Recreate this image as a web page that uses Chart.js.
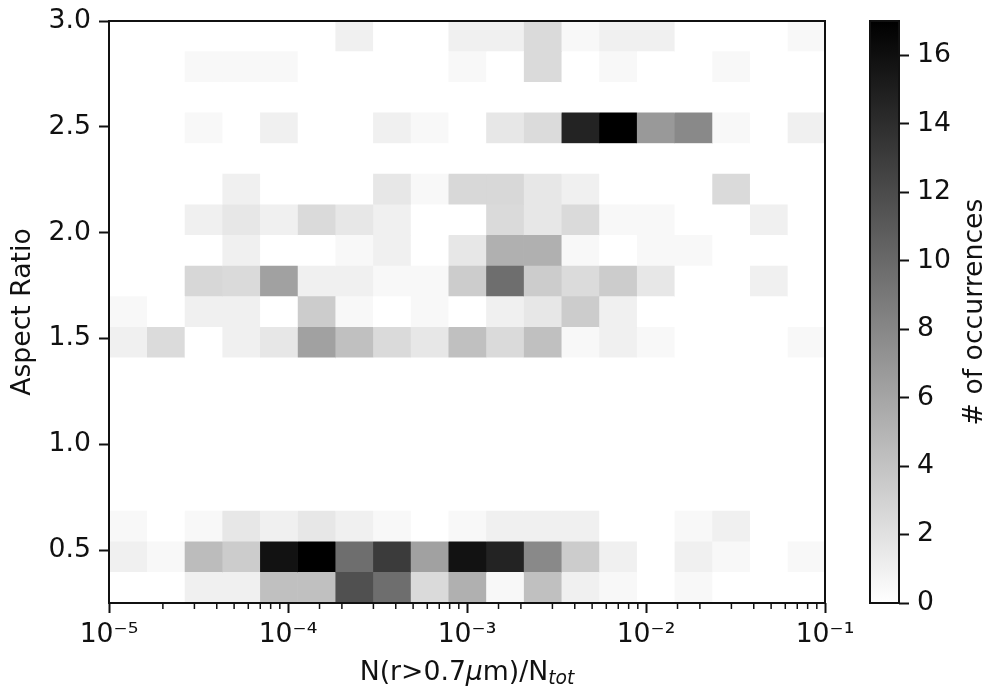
<!DOCTYPE html>
<html>
<head>
<meta charset="utf-8">
<title>Aspect ratio histogram</title>
<script src="https://cdn.jsdelivr.net/npm/chart.js@4"></script>
<style>
  html, body { margin: 0; background: #fff; }
  #wrap { position: relative; width: 985px; height: 687px; }
  canvas { position: absolute; left: 0; top: 0; }
</style>
</head>
<body>
<div id="wrap">
  <canvas id="heat" width="985" height="687"></canvas>
  <canvas id="cbar" width="985" height="687"></canvas>
</div>
<script>
// counts per bin, rows run from the top of the plot down, 19 log-spaced columns
const row00 = [0,0,0,0,0,0,1,0,0,1,1,2.5,0.5,1,1,0,0,0,0.5];
const row01 = [0,0,0.5,0.5,0.5,0,0,0,0,0.5,0,2.5,0,0.5,0,0,0.5,0,0];
const row02 = [0,0,0,0,0,0,0,0,0,0,0,0,0,0,0,0,0,0,0];
const row03 = [0,0,0.5,0,1,0,0,1,0.5,0,1.6,2.4,14.7,17,6.8,7.9,0.5,0,1];
const row04 = [0,0,0,0,0,0,0,0,0,0,0,0,0,0,0,0,0,0,0];
const row05 = [0,0,0,1,0,0,0,1.6,0.5,2.6,2.6,1.6,1,0,0,0,2.5,0,0];
const row06 = [0,0,1,1.6,1,2.5,1.6,1,0,0,2.5,1.6,2.5,0.5,0.5,0,0,1,0];
const row07 = [0,0,0,1,0,0,0.5,1,0,1.6,5.3,5.3,0.5,0,0.5,0.5,0,0,0];
const row08 = [0,0,2.7,2.5,6.3,1,1,0.5,0.5,3.4,9.7,3.4,2.4,3.4,1.6,0,0,1,0];
const row09 = [0.5,0,1,1,0,3.4,0.5,0,0.5,0,1,1.6,3.4,1,0,0,0,0,0];
const row10 = [1,2.4,0,1,1.6,6.3,4.2,2.5,1.6,4.2,2.5,4.2,0.5,1,0.5,0,0,0,0.5];
const row11 = [0,0,0,0,0,0,0,0,0,0,0,0,0,0,0,0,0,0,0];
const row12 = [0,0,0,0,0,0,0,0,0,0,0,0,0,0,0,0,0,0,0];
const row13 = [0,0,0,0,0,0,0,0,0,0,0,0,0,0,0,0,0,0,0];
const row14 = [0,0,0,0,0,0,0,0,0,0,0,0,0,0,0,0,0,0,0];
const row15 = [0,0,0,0,0,0,0,0,0,0,0,0,0,0,0,0,0,0,0];
const row16 = [0.5,0,0.5,1.6,1,1.6,1,0.5,0,0.5,1,1,1,0,0,0.5,1,0,0];
const row17 = [1,0.5,4.5,3.4,15.8,17,9.7,13.1,6.3,15.8,14.7,7.9,3.4,1,0,1,0.5,0,0.5];
const row18 = [0,0,1,1,4.2,4.2,11.7,9.7,2.5,5.3,0.5,4.2,1,0.5,0,0.5,0,0,0];
const rows = [row00,row01,row02,row03,row04,row05,row06,row07,row08,row09,row10,row11,row12,row13,row14,row15,row16,row17,row18];

const xRange = [1e-5, 1e-1];
const yRange = [0.25, 3];
const yTicks = [0.5, 1, 1.5, 2, 2.5, 3];
const cbarRange = [0, 17];
const cbarTicks = [0, 2, 4, 6, 8, 10, 12, 14, 16];

const FONT = '"DejaVu Sans"';
const SIZE = 26.7;
const INK = '#111';

const nCols = row00.length;
const edgeExp = i => Math.log10(xRange[0]) + i * (Math.log10(xRange[1]) - Math.log10(xRange[0])) / nCols;
const gray = v => {
  const g = Math.round(255 * (1 - v / cbarRange[1]));
  return `rgb(${g},${g},${g})`;
};
const isDecade = v => Math.abs(Math.log10(v) - Math.round(Math.log10(v))) < 1e-9;
const supers = { '-': '⁻', 1: '¹', 2: '²', 3: '³', 4: '⁴', 5: '⁵' };
const decadeLabel = v => '10' + String(Math.round(Math.log10(v))).split('').map(c => supers[c]).join('');

// one overlaid floating bar dataset per column
const columns = row00.map((_, c) => ({
  label: 'col' + c,
  yAxisID: 'y',
  data: rows.map(() => [Math.pow(10, edgeExp(c)), Math.pow(10, edgeExp(c + 1))]),
  backgroundColor: rows.map(r => gray(r[c])),
  borderWidth: 0,
  categoryPercentage: 1,
  barPercentage: 1,
  grouped: false
}));

const boxPlugin = {
  id: 'box',
  afterDatasetsDraw(chart) {
    const a = chart.chartArea, ctx = chart.ctx;
    ctx.save();
    ctx.strokeStyle = INK;
    ctx.lineWidth = 2;
    ctx.strokeRect(a.left, a.top, a.right - a.left, a.bottom - a.top);
    ctx.restore();
  }
};

const minorTicks = {
  id: 'minorTicks',
  afterDraw(chart) {
    const x = chart.scales.x, ctx = chart.ctx;
    ctx.save();
    ctx.strokeStyle = INK;
    ctx.lineWidth = 1.5;
    x.ticks.forEach(t => {
      if (isDecade(t.value)) return;
      const px = x.getPixelForValue(t.value);
      ctx.beginPath();
      ctx.moveTo(px, chart.chartArea.bottom);
      ctx.lineTo(px, chart.chartArea.bottom + 6);
      ctx.stroke();
    });
    ctx.restore();
  }
};

// x label needs italic mu and a subscript, which scale titles can't do
const xLabel = {
  id: 'xLabel',
  afterDraw(chart) {
    const ctx = chart.ctx;
    const parts = [
      ['N(r>0.7', `${SIZE}px ${FONT}`, 0],
      ['μ', `italic ${SIZE}px ${FONT}`, 0],
      ['m)/N', `${SIZE}px ${FONT}`, 0],
      ['tot', `italic ${SIZE * 0.7}px ${FONT}`, 4]
    ];
    ctx.save();
    ctx.fillStyle = INK;
    ctx.textBaseline = 'alphabetic';
    ctx.textAlign = 'left';
    let w = 0;
    parts.forEach(p => { ctx.font = p[1]; w += ctx.measureText(p[0]).width; });
    let x = (chart.chartArea.left + chart.chartArea.right) / 2 - w / 2;
    parts.forEach(p => {
      ctx.font = p[1];
      ctx.fillText(p[0], x, 680 + p[2]);
      x += ctx.measureText(p[0]).width;
    });
    ctx.restore();
  }
};

new Chart(document.getElementById('heat'), {
  type: 'bar',
  data: { labels: rows.map((_, i) => 'row' + i), datasets: columns },
  plugins: [boxPlugin, minorTicks, xLabel],
  options: {
    indexAxis: 'y',
    responsive: false,
    animation: false,
    layout: { padding: { top: 21, right: 160, left: 0, bottom: 0 } },
    plugins: { legend: { display: false }, tooltip: { enabled: false } },
    scales: {
      x: {
        type: 'logarithmic',
        min: xRange[0],
        max: xRange[1],
        afterFit: s => { s.height = 84; },
        border: { display: false },
        grid: {
          drawOnChartArea: false,
          tickLength: 10,
          tickWidth: 2,
          tickColor: c => (isDecade(c.tick.value) ? INK : 'rgba(0,0,0,0)')
        },
        ticks: {
          autoSkip: false,
          maxRotation: 0,
          padding: 6,
          color: INK,
          font: { family: FONT, size: SIZE },
          callback: v => (isDecade(v) ? decadeLabel(v) : '')
        }
      },
      y: { type: 'category', display: false, offset: true },
      yValue: {
        type: 'linear',
        axis: 'y',
        position: 'left',
        offset: false,
        min: yRange[0],
        max: yRange[1],
        afterBuildTicks: s => { s.ticks = yTicks.map(v => ({ value: v })); },
        afterFit: s => { s.width = 109; },
        border: { display: false },
        grid: { offset: false, drawOnChartArea: false, tickLength: 10, tickWidth: 2, tickColor: INK },
        title: {
          display: true,
          text: 'Aspect Ratio',
          color: INK,
          font: { family: FONT, size: SIZE },
          padding: { top: 7, bottom: 0 }
        },
        ticks: {
          padding: 8,
          color: INK,
          // tight line height, otherwise the top label pushes the plot area down
          font: { family: FONT, size: SIZE, lineHeight: 0.9 },
          callback: v => v.toFixed(1)
        }
      }
    }
  }
});

const cbarLabel = {
  id: 'cbarLabel',
  afterDraw(chart) {
    const ctx = chart.ctx, a = chart.chartArea;
    ctx.save();
    ctx.translate(975, (a.top + a.bottom) / 2);
    ctx.rotate(-Math.PI / 2);
    ctx.fillStyle = INK;
    ctx.font = `${SIZE}px ${FONT}`;
    ctx.textAlign = 'center';
    ctx.textBaseline = 'middle';
    ctx.fillText('# of occurrences', 0, 0);
    ctx.restore();
  }
};

new Chart(document.getElementById('cbar'), {
  type: 'bar',
  data: {
    labels: ['count'],
    datasets: [{
      data: [cbarRange],
      borderWidth: 0,
      categoryPercentage: 1,
      barPercentage: 1,
      backgroundColor: c => {
        const a = c.chart.chartArea;
        if (!a) return '#888';
        const g = c.chart.ctx.createLinearGradient(0, a.bottom, 0, a.top);
        g.addColorStop(0, gray(cbarRange[0]));
        g.addColorStop(1, gray(cbarRange[1]));
        return g;
      }
    }]
  },
  plugins: [boxPlugin, cbarLabel],
  options: {
    responsive: false,
    animation: false,
    layout: { padding: { left: 870, top: 21, bottom: 84, right: 0 } },
    plugins: { legend: { display: false }, tooltip: { enabled: false } },
    scales: {
      x: { display: false, offset: true },
      y: {
        type: 'linear',
        position: 'right',
        min: cbarRange[0],
        max: cbarRange[1],
        afterBuildTicks: s => { s.ticks = cbarTicks.map(v => ({ value: v })); },
        afterFit: s => { s.width = 86; },
        border: { display: false },
        grid: { drawOnChartArea: false, tickLength: 10, tickWidth: 2, tickColor: INK },
        ticks: {
          padding: 8,
          color: INK,
          font: { family: FONT, size: SIZE, lineHeight: 0.9 }
        }
      }
    }
  }
});
</script>
</body>
</html>
